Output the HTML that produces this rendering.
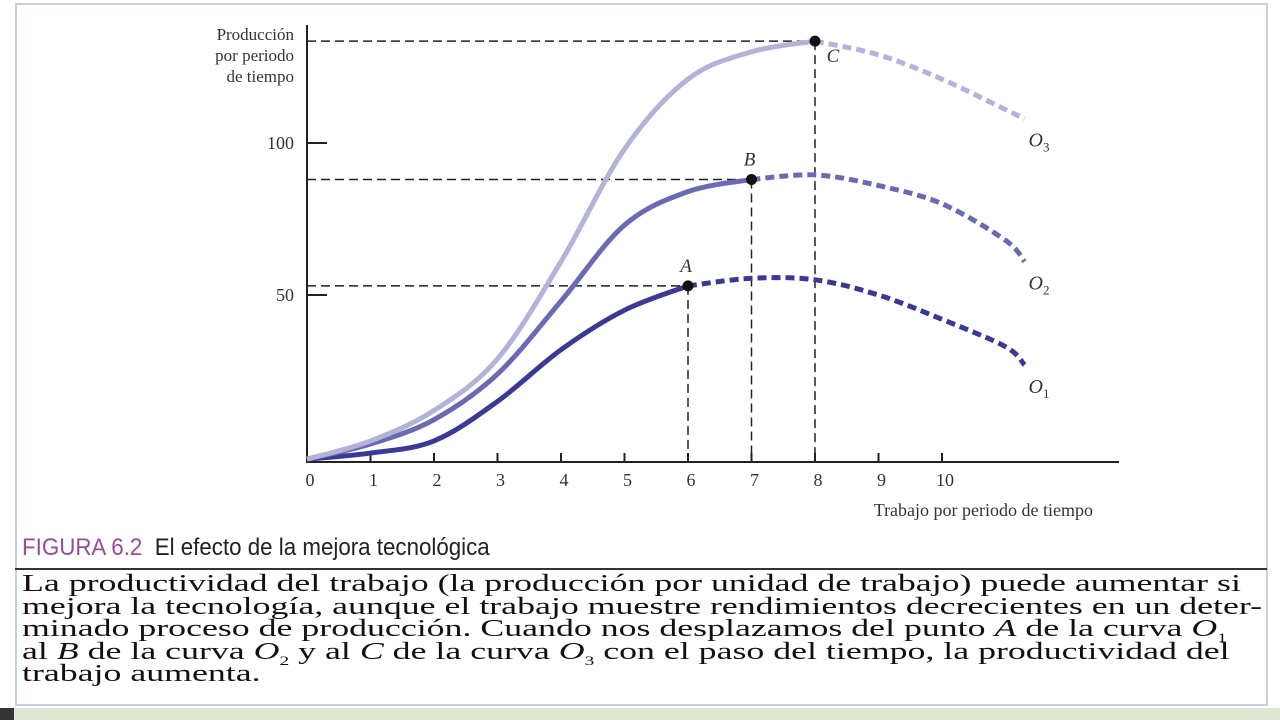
<!DOCTYPE html>
<html><head><meta charset="utf-8">
<style>
html,body{margin:0;padding:0;background:#fff;}
body{width:1280px;height:720px;position:relative;overflow:hidden;font-family:"Liberation Serif",serif;}
#frame{position:absolute;left:15px;top:3px;width:1253px;height:703px;border:2px solid #c5cde8;box-sizing:border-box;}
#strip{position:absolute;left:0;top:708px;width:1280px;height:12px;background:#dfe6cf;}
#strip2{position:absolute;left:0;top:708px;width:14px;height:12px;background:#333;}
#cap{position:absolute;left:22px;top:534px;font-family:"Liberation Sans",sans-serif;font-size:24px;color:#222;transform:scaleX(0.93);transform-origin:left;white-space:nowrap;}
#cap b{font-weight:normal;color:#9a4b97;}
#rule{position:absolute;left:15px;top:568px;width:1252px;height:2px;background:#333;}
#body{position:absolute;left:22px;top:573px;width:1500px;font-size:24px;line-height:22.6px;color:#111;transform:scaleX(1.5);transform-origin:left top;white-space:nowrap;}
#body sub{font-size:13px;line-height:0;}
</style></head><body>
<div id="frame"></div>
<svg id="chart" width="1280" height="530" style="position:absolute;left:0;top:0" font-family="Liberation Serif, serif"></svg>
<div id="cap"><b>FIGURA 6.2</b>&nbsp; El efecto de la mejora tecnológica</div>
<div id="rule"></div>
<div id="body"><span id="inner" style="display:inline-block;transform:scaleX(0.6);transform-origin:left top;width:2000px;">La productividad del trabajo (la producción por unidad de trabajo) puede aumentar si<br>mejora la tecnología, aunque el trabajo muestre rendimientos decrecientes en un deter-<br>minado proceso de producción. Cuando nos desplazamos del punto <i>A</i> de la curva <i>O</i><sub>1</sub><br>al <i>B</i> de la curva <i>O</i><sub>2</sub> y al <i>C</i> de la curva <i>O</i><sub>3</sub> con el paso del tiempo, la productividad del<br>trabajo aumenta.</span></div>
<div id="strip"></div>
<div id="strip2"></div>
<script>
// fit caption body text to the reference width
(function(){const b=document.getElementById('body');const inner=document.getElementById('inner');
b.style.transform='none';inner.style.transform='none';inner.style.width='auto';
const w=inner.getBoundingClientRect().width;const s=1240/w;
b.style.transform='scaleX('+s+')';})();
const xTicks=[0,1,2,3,4,5,6,7,8,9,10];
const yTicks=[50,100];
const xs=[0,1,2,3,4,5,6,7,8,9,10,11,11.3];
const o1=[-4,-2,2,15,32,45,53,55.5,55,50,42,33,27];
const o2=[-4,1,9,24,48,73,84,88,89.5,86,80,68,61];
const o3=[-4,2,12,29,61,98,121,130,133.5,129,121,111,108];
const solidUntil=[6,7,8];
const ptLabels=["A","B","C"];
const curveLabels=["O","O","O"];
const colors=["#3a3a94","#6a6ab4","#b3b3da"];
const X=v=>307+v*63.5;
const Y=v=>447-v*3.04;
const svg=document.getElementById('chart');
const NS="http://www.w3.org/2000/svg";
function mk(t,a,p){const e=document.createElementNS(NS,t);for(const k in a)e.setAttribute(k,a[k]);(p||svg).appendChild(e);return e;}
function path(px,py){let d="M"+px[0]+","+py[0];for(let i=0;i<px.length-1;i++){const p0=i?i-1:i,p3=i+2<px.length?i+2:i+1;
const c1x=px[i]+(px[i+1]-px[p0])/6,c1y=py[i]+(py[i+1]-py[p0])/6,c2x=px[i+1]-(px[p3]-px[i])/6,c2y=py[i+1]-(py[p3]-py[i])/6;
d+=" C"+c1x+","+c1y+" "+c2x+","+c2y+" "+px[i+1]+","+py[i+1];}return d;}
const series=[o1,o2,o3];
series.forEach((s,k)=>{const xi=xs.indexOf(solidUntil[k]);const px=X(xs[xi]),py=Y(s[xi]);
let l=mk('line',{x1:307,y1:py,x2:px,y2:py,stroke:'#222','stroke-width':1.5,'stroke-dasharray':'9,5'});


l=mk('line',{x1:px,y1:py,x2:px,y2:462,stroke:'#222','stroke-width':1.5,'stroke-dasharray':'9,5'});

});
let ax=mk('line',{x1:307,y1:25,x2:307,y2:462,stroke:'#222','stroke-width':2});


ax=mk('line',{x1:306,y1:462,x2:1119,y2:462,stroke:'#222','stroke-width':2});


xTicks.forEach(v=>{if(v>0){const t=mk('line',{x1:X(v),y1:462,x2:X(v),y2:453,stroke:'#222','stroke-width':2});

}
const tx=mk('text',{x:X(v)+3,y:486,'font-size':18,'text-anchor':'middle',fill:'#333'});tx.textContent=v;

});
yTicks.forEach(v=>{const t=mk('line',{x1:307,y1:Y(v),x2:327,y2:Y(v),stroke:'#222','stroke-width':2});


const tx=mk('text',{x:294,y:Y(v)+6,'font-size':18,'text-anchor':'end',fill:'#333'});tx.textContent=v;

});
const yt=mk('text',{x:294,y:40,'font-size':17,'text-anchor':'end',fill:'#333'});


["Producción","por periodo","de tiempo"].forEach((s,i)=>{const ts=mk('tspan',{x:294,dy:i?21:0},yt);ts.textContent=s;});
const xt=mk('text',{x:1093,y:516,'font-size':18,'text-anchor':'end',fill:'#333'});xt.textContent="Trabajo por periodo de tiempo";


series.forEach((s,k)=>{const xi=xs.indexOf(solidUntil[k]);
const ax1=xs.slice(0,xi+1).map(X),ay1=s.slice(0,xi+1).map(Y);
const ax2=xs.slice(xi).map(X),ay2=s.slice(xi).map(Y);
let p=mk('path',{d:path(ax1,ay1),fill:'none',stroke:colors[k],'stroke-width':5});


p=mk('path',{d:path(ax2,ay2),fill:'none',stroke:colors[k],'stroke-width':5,'stroke-dasharray':'9,5'});


const c=mk('circle',{cx:X(xs[xi]),cy:Y(s[xi]),r:5.5,fill:'#111'});


const lx=k==2?X(xs[xi])+18:X(xs[xi])-2, ly=k==2?Y(s[xi])+21:Y(s[xi])-14;
const t=mk('text',{x:lx,y:ly,'font-size':19,'font-style':'italic','text-anchor':'middle',fill:'#333'});t.textContent=ptLabels[k];


const n=s.length-1;const cl=mk('text',{x:X(xs[n])+4,y:Y(s[n])+28,'font-size':20,'font-style':'italic',fill:'#333'});
cl.textContent=curveLabels[k];const sb=mk('tspan',{'font-size':13,dy:5,'font-style':'normal'},cl);sb.textContent=String(k+1);

});
</script>
</body></html>
